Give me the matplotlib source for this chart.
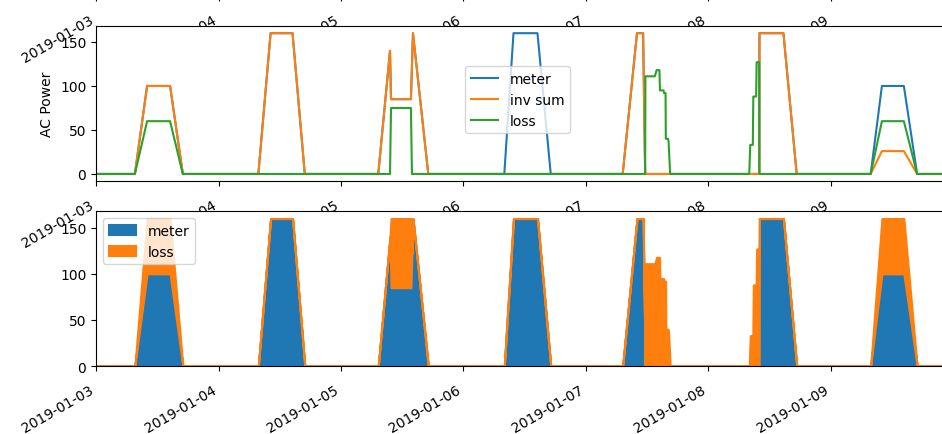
import pandas as pd
import matplotlib.pyplot as plt
import matplotlib.dates as mdates

# heures depuis 2019-01-03 00:00 (pas irregulier)
heures = [
    0.0, 7.6, 10.0, 14.5, 17.0,                       # 03
    31.8, 34.2, 38.5, 40.9,                           # 04
    55.3, 57.6, 57.8, 61.7, 61.9, 62.1, 65.1,         # 05
    80.0, 81.8, 86.5, 89.1,                           # 06
    103.2, 106.0, 107.2, 107.6, 107.65, 109.5, 109.85, 110.4,
    110.5, 111.2, 111.3, 111.6, 111.65, 112.1, 112.2, 112.5,  # 07
    128.0, 128.2, 128.7, 128.8, 129.35, 129.45, 129.95, 130.0,
    134.7, 137.3,                                     # 08
    151.8, 154.0, 158.3, 160.9, 167.75,               # 09
]
meter = [
    0, 0, 100, 100, 0,
    0, 160, 160, 0,
    0, 140, 85, 85, 122, 160, 0,
    0, 160, 160, 0,
    0, 160, 160, 0, 0, 0, 0, 0,
    0, 0, 0, 0, 0, 0, 0, 0,
    0, 0, 0, 0, 0, 0, 0, 160,
    160, 0,
    0, 100, 100, 0, 0,
]
inv_sum = [
    0, 0, 100, 100, 0,
    0, 160, 160, 0,
    0, 140, 85, 85, 122, 160, 0,
    0, 0, 0, 0,
    0, 160, 160, 0, 0, 0, 0, 0,
    0, 0, 0, 0, 0, 0, 0, 0,
    0, 0, 0, 0, 0, 0, 0, 160,
    160, 0,
    0, 26, 26, 0, 0,
]
loss = [
    0, 0, 60, 60, 0,
    0, 0, 0, 0,
    0, 0, 75, 75, 0, 0, 0,
    0, 0, 0, 0,
    0, 0, 0, 0, 111, 111, 118, 118,
    95, 95, 92, 92, 40, 40, 36, 0,
    0, 33, 33, 88, 88, 127, 127, 0,
    0, 0,
    0, 60, 60, 0, 0,
]

temps = pd.Timestamp("2019-01-03") + pd.to_timedelta(heures, unit="h")
df = pd.DataFrame({"meter": meter, "inv sum": inv_sum, "loss": loss}, index=temps)

plt.rcParams["xtick.major.pad"] = 8

fig = plt.figure(figsize=(9.42, 4.35), dpi=100)
gauche, largeur, hauteur = 0.102, 0.9087, 0.356
ax0 = fig.add_axes([gauche, 1.007, largeur, hauteur])
ax1 = fig.add_axes([gauche, 0.5816, largeur, hauteur])
ax2 = fig.add_axes([gauche, 0.1563, largeur, hauteur])

# Graphe du haut : les trois courbes
for col in ["meter", "inv sum", "loss"]:
    ax1.plot(df.index, df[col], label=col)
ax1.set_ylabel("AC Power")
ax1.legend(loc="upper left", bbox_to_anchor=(0.423, 0.787))

# Graphe du bas : meter + loss empiles
ax2.stackplot(df.index, df["meter"], df["loss"], labels=["meter", "loss"],
              linewidth=1.5, edgecolor="face")
ax2.legend(loc="upper left")

ax0.set_yticks([])
for ax in (ax0, ax1, ax2):
    ax.xaxis_date()
    ax.set_xlim(df.index[0], df.index[-1])
    ax.xaxis.set_major_locator(mdates.DayLocator())
    ax.xaxis.set_major_formatter(mdates.DateFormatter("%Y-%m-%d"))
    plt.setp(ax.get_xticklabels(), rotation=30, ha="right")

fig.savefig("out.png", dpi=100)
